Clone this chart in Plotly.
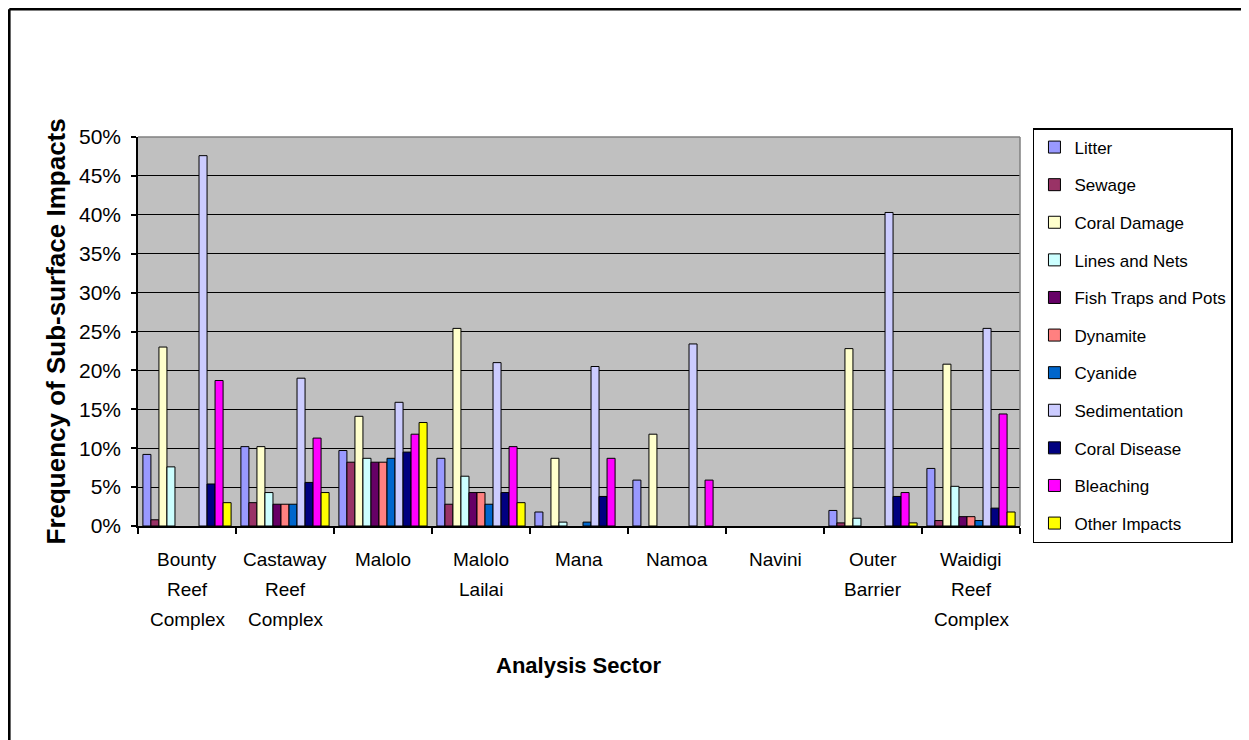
import plotly.graph_objects as go

categories = ["Bounty Reef Complex", "Castaway Reef Complex", "Malolo", "Malolo Lailai",
              "Mana", "Namoa", "Navini", "Outer Barrier", "Waidigi Reef Complex"]
category_lines = [["Bounty", "Reef", "Complex"], ["Castaway", "Reef", "Complex"], ["Malolo"],
                  ["Malolo", "Lailai"], ["Mana"], ["Namoa"], ["Navini"], ["Outer", "Barrier"],
                  ["Waidigi", "Reef", "Complex"]]

litter        = [9.2, 10.2, 9.7, 8.7, 1.8, 5.9, 0, 2.0, 7.4]
sewage        = [0.8, 3.0, 8.2, 2.8, 0, 0, 0, 0.4, 0.7]
coral_damage  = [23.0, 10.2, 14.1, 25.4, 8.7, 11.8, 0, 22.8, 20.8]
lines_nets    = [7.6, 4.3, 8.7, 6.4, 0.5, 0, 0, 1.0, 5.1]
fish_traps    = [0, 2.8, 8.2, 4.3, 0, 0, 0, 0, 1.2]
dynamite      = [0, 2.8, 8.2, 4.3, 0, 0, 0, 0, 1.2]
cyanide       = [0, 2.8, 8.7, 2.8, 0.5, 0, 0, 0, 0.7]
sedimentation = [47.6, 19.0, 15.9, 21.0, 20.5, 23.4, 0, 40.3, 25.4]
coral_disease = [5.4, 5.6, 9.5, 4.3, 3.8, 0, 0, 3.8, 2.3]
bleaching     = [18.7, 11.3, 11.8, 10.2, 8.7, 5.9, 0, 4.3, 14.4]
other_impacts = [3.0, 4.3, 13.3, 3.0, 0, 0, 0, 0.4, 1.8]

series_names = ["Litter", "Sewage", "Coral Damage", "Lines and Nets", "Fish Traps and Pots",
                "Dynamite", "Cyanide", "Sedimentation", "Coral Disease", "Bleaching", "Other Impacts"]
series_values = [litter, sewage, coral_damage, lines_nets, fish_traps, dynamite, cyanide,
                 sedimentation, coral_disease, bleaching, other_impacts]
series_colors = ["#9999FF", "#993366", "#FFFFCC", "#CCFFFF", "#660066", "#FF8080",
                 "#0066CC", "#CCCCFF", "#000080", "#FF00FF", "#FFFF00"]

FONT = "Liberation Sans, Arial, sans-serif"

fig = go.Figure()
for name, vals, col in zip(series_names, series_values, series_colors):
    fig.add_trace(go.Bar(
        x=categories, y=[(v / 100 if v else None) for v in vals], name=name, legendgroup=name,
        marker=dict(color=col, line=dict(color="black", width=1)),
    ))

annotations = []
for cat, lines in zip(categories, category_lines):
    for j, ln in enumerate(lines):
        annotations.append(dict(
            x=cat, xref="x", y=0, yref="paper", text=ln, showarrow=False,
            xanchor="center", yanchor="middle", yshift=-33 - 30 * j,
            font=dict(family=FONT, size=19, color="black")))

annotations.append(dict(
    x=0.5, xref="paper", y=0, yref="paper", text="<b>Analysis Sector</b>", showarrow=False,
    xanchor="center", yanchor="middle", yshift=-139,
    font=dict(family=FONT, size=22, color="black")))
annotations.append(dict(
    x=0, xref="paper", y=0.5, yref="paper", text="<b>Frequency of Sub-surface Impacts</b>",
    showarrow=False, textangle=-90, xanchor="center", yanchor="middle", xshift=-83,
    font=dict(family=FONT, size=26, color="black")))

W, H = 1241, 732
PW, PH, L, T = 882.0, 389.0, 130.0, 129.0
bx0 = (1.3 - L) / PW
by1 = (PH + T - 1.3) / PH
shapes = [
    dict(type="line", xref="paper", yref="paper", x0=0, x1=1, y0=1, y1=1,
         line=dict(color="#808080", width=1.5), layer="above"),
    dict(type="line", xref="paper", yref="paper", x0=1, x1=1, y0=0, y1=1,
         line=dict(color="#808080", width=1.5), layer="above"),
    # outer chart frame (top and left edges; the others fall outside the page)
    dict(type="line", xref="paper", yref="paper", x0=bx0, x1=(W - L) / PW, y0=by1, y1=by1,
         line=dict(color="black", width=2.6), layer="above"),
    dict(type="line", xref="paper", yref="paper", x0=bx0, x1=bx0, y0=-(H - T - PH) / PH, y1=by1,
         line=dict(color="black", width=2.6), layer="above"),
]

fig.update_layout(
    width=W, height=H,
    margin=dict(l=130, r=W - 130 - 882, t=129, b=H - 129 - 389, autoexpand=False),
    paper_bgcolor="white", plot_bgcolor="#C0C0C0",
    barmode="group", bargap=0.1, bargroupgap=0,
    font=dict(family=FONT, color="black"),
    legend=dict(
        x=1.0147, y=1.0231, xanchor="left", yanchor="top",
        bgcolor="white", bordercolor="black", borderwidth=1.5,
        font=dict(family=FONT, size=17, color="black"),
        tracegroupgap=12.5, traceorder="grouped", itemwidth=30, maxheight=600,
    ),
    annotations=annotations, shapes=shapes,
    xaxis=dict(
        type="category", showticklabels=False, ticks="outside", tickson="boundaries",
        ticklen=6, tickcolor="black", tickwidth=1.5,
        showline=True, linecolor="black", linewidth=1.5, showgrid=False,
    ),
    yaxis=dict(
        range=[0, 0.5], dtick=0.05, tickformat=".0%", ticks="outside", ticklen=5,
        tickcolor="black", tickwidth=1.5, showline=True, linecolor="black", linewidth=1.5,
        showgrid=True, gridcolor="black", gridwidth=1, zeroline=False,
        tickfont=dict(family=FONT, size=21, color="black"), ticklabelstandoff=6,
    ),
)

fig.write_html("out.html")
